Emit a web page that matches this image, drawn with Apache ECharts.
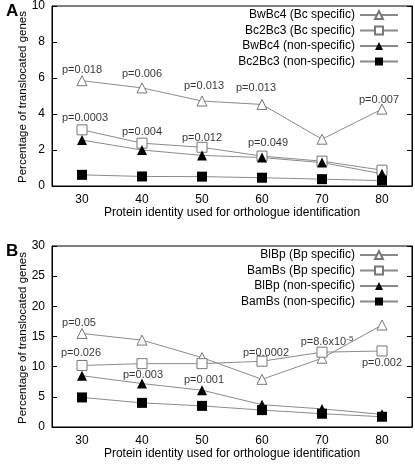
<!DOCTYPE html>
<html><head><meta charset="utf-8">
<script src="https://cdn.jsdelivr.net/npm/echarts@6/dist/echarts.min.js"></script>
<style>html,body{margin:0;padding:0;background:#fff}#c{width:415px;height:465px}</style>
</head><body><div id="c"></div>
<script>
var identity = [30, 40, 50, 60, 70, 80];
// Panel A
var aNames = ['BwBc4 (Bc specific)', 'Bc2Bc3 (Bc specific)', 'BwBc4 (non-specific)', 'Bc2Bc3 (non-specific)'];
var aBwBc4Spec = [5.85, 5.45, 4.72, 4.53, 2.6, 4.27];
var aBc2Bc3Spec = [3.12, 2.38, 2.15, 1.66, 1.38, 0.88];
var aBwBc4Non = [2.55, 2.0, 1.7, 1.58, 1.3, 0.68];
var aBc2Bc3Non = [0.62, 0.53, 0.52, 0.46, 0.38, 0.3];
var aPTri = ['p=0.018', 'p=0.006', 'p=0.013', 'p=0.013', '', 'p=0.007'];
var aPSq = ['p=0.0003', 'p=0.004', 'p=0.012', 'p=0.049', '', ''];
// Panel B
var bNames = ['BlBp (Bp specific)', 'BamBs (Bp specific)', 'BlBp (non-specific)', 'BamBs (non-specific)'];
var bBlBpSpec = [15.5, 14.4, 11.5, 7.9, 11.4, 16.9];
var bBamBsSpec = [10.2, 10.5, 10.5, 10.9, 12.4, 12.6];
var bBlBpNon = [8.5, 7.2, 6.1, 3.7, 3.0, 2.1];
var bBamBsNon = [4.9, 4.0, 3.5, 2.8, 2.2, 1.7];
var bPTri = ['p=0.05', '', '', '', '', ''];
var bPSq = ['p=0.026', '', '', 'p=0.0002', 'p=8.6x10{sup|-5}', 'p=0.002'];
var bPTriNon = ['', 'p=0.003', 'p=0.001', '', '', ''];
var yTitle = 'Percentage of translocated genes';
var xTitle = 'Protein identity used for orthologue identification';

var FONT = 'Liberation Sans, Arial, sans-serif';
var LINE = '#8a8a8a';

// label offsets (dx, dy) relative to point
var aTriOff = [[0,-11],[0,-14],[2,-15],[-6,-16],[0,0],[-3,-9]];
var aSqOff = [[3,-12],[0,-11],[0,-9],[6,-13],[0,0],[0,0]];
var bTriOff = [[-3,-11],[0,0],[0,0],[0,0],[0,0],[0,0]];
var bSqOff = [[-1,-12],[0,0],[0,0],[4,-8],[5,-10],[0,12]];
var bTriNonOff = [[0,0],[1,-9],[2,-10],[0,0],[0,0],[0,0]];

function labelSeries(vals, labels, offs, xi, yi) {
  return { type: 'scatter', xAxisIndex: xi, yAxisIndex: yi, symbolSize: 1, silent: true,
    itemStyle: { color: 'rgba(0,0,0,0)' }, z: 10, animation: false,
    data: vals.map(function (v, i) {
      return { value: [identity[i], v], label: labels[i] ? { show: true, position: 'inside', offset: offs[i],
        formatter: labels[i], color: '#000', fontSize: 11, fontFamily: FONT,
        rich: { sup: { fontSize: 8, color: '#000', fontFamily: FONT, padding: [0, 0, 7, 0] } } } : { show: false } };
    }) };
}

function lineSeries(name, vals, sym, filled, xi, yi) {
  return { type: 'line', name: name, xAxisIndex: xi, yAxisIndex: yi,
    symbol: sym, symbolSize: 10, showSymbol: true,
    lineStyle: { color: LINE, width: 1 },
    itemStyle: filled ? { color: '#000', borderColor: '#000', borderWidth: 0 } : { color: '#fff', borderColor: '#777', borderWidth: 1 },
    emphasis: { disabled: true }, animation: false,
    data: vals.map(function (v, i) { return [identity[i], v]; }) };
}

var grids = [
  { left: 52, right: 3, top: 5, height: 181, show: true, borderColor: '#000', borderWidth: 1, backgroundColor: 'transparent' },
  { left: 52, right: 3, top: 246, height: 181, show: true, borderColor: '#000', borderWidth: 1, backgroundColor: 'transparent' }
];

function xAx(gi) {
  return { type: 'value', gridIndex: gi, min: 25, max: 85, interval: 5,
    axisLine: { show: true, lineStyle: { color: '#000' } }, axisTick: { show: false }, splitLine: { show: false },
    axisLabel: { color: '#000', fontSize: 12, fontFamily: FONT, margin: 8,
      formatter: function (v) { return (v % 10 === 0 && v >= 30 && v <= 80) ? String(v) : ''; } },
    name: xTitle, nameLocation: 'middle', nameGap: 21,
    nameMoveOverlap: false,
    nameTextStyle: { color: '#000', fontSize: 12, fontFamily: FONT } };
}
function yAx(gi, max, interval) {
  return { type: 'value', gridIndex: gi, min: 0, max: max, interval: interval,
    axisLine: { show: true, lineStyle: { color: '#000' } },
    axisTick: { show: true, inside: true, length: 5, lineStyle: { color: '#000' } }, splitLine: { show: false },
    axisLabel: { color: '#000', fontSize: 12, fontFamily: FONT, margin: 7 } };
}
function yAxR(gi, max, interval) {
  return { type: 'value', gridIndex: gi, min: 0, max: max, interval: interval, position: 'right',
    axisLine: { show: true, lineStyle: { color: '#000' } },
    axisTick: { show: true, inside: true, length: 5, lineStyle: { color: '#000' } }, splitLine: { show: false },
    axisLabel: { show: false } };
}

function legend(names, top) {
  return { orient: 'vertical', right: 16, top: top, align: 'right', itemWidth: 38, itemHeight: 10, itemGap: 3.5,
    textStyle: { color: '#000', fontSize: 12, fontFamily: FONT }, data: names, selectedMode: false,
    padding: 0 };
}

function yTitleGraphic(cy) {
  return { type: 'text', x: 23, y: cy, rotation: Math.PI / 2, silent: true, z: 1,
    style: { text: yTitle, fill: '#000', fontSize: 11.5, fontFamily: FONT, align: 'center', verticalAlign: 'middle' } };
}

var option = {
  animation: false,
  textStyle: { fontFamily: FONT },
  title: [
    { text: 'A', left: 1, top: -2, z: 10, textStyle: { fontSize: 17, fontWeight: 'bold', color: '#000', fontFamily: FONT } },
    { text: 'B', left: 1, top: 238, z: 10, textStyle: { fontSize: 17, fontWeight: 'bold', color: '#000', fontFamily: FONT } }
  ],
  graphic: [yTitleGraphic(97), yTitleGraphic(338)],
  legend: [legend(aNames, 9), legend(bNames, 249)],
  grid: grids,
  xAxis: [xAx(0), xAx(1)],
  yAxis: [yAx(0, 10, 2), yAx(1, 30, 5), yAxR(0, 10, 2), yAxR(1, 30, 5)],
  series: [
    lineSeries(aNames[0], aBwBc4Spec, 'triangle', false, 0, 0),
    lineSeries(aNames[1], aBc2Bc3Spec, 'rect', false, 0, 0),
    lineSeries(aNames[2], aBwBc4Non, 'triangle', true, 0, 0),
    lineSeries(aNames[3], aBc2Bc3Non, 'rect', true, 0, 0),
    lineSeries(bNames[0], bBlBpSpec, 'triangle', false, 1, 1),
    lineSeries(bNames[1], bBamBsSpec, 'rect', false, 1, 1),
    lineSeries(bNames[2], bBlBpNon, 'triangle', true, 1, 1),
    lineSeries(bNames[3], bBamBsNon, 'rect', true, 1, 1),
    labelSeries(aBwBc4Spec, aPTri, aTriOff, 0, 0),
    labelSeries(aBc2Bc3Spec, aPSq, aSqOff, 0, 0),
    labelSeries(bBlBpSpec, bPTri, bTriOff, 1, 1),
    labelSeries(bBamBsSpec, bPSq, bSqOff, 1, 1),
    labelSeries(bBlBpNon, bPTriNon, bTriNonOff, 1, 1)
  ]
};
var chart = echarts.init(document.getElementById('c'), null, { renderer: 'canvas' });
chart.setOption(option);
</script></body></html>
